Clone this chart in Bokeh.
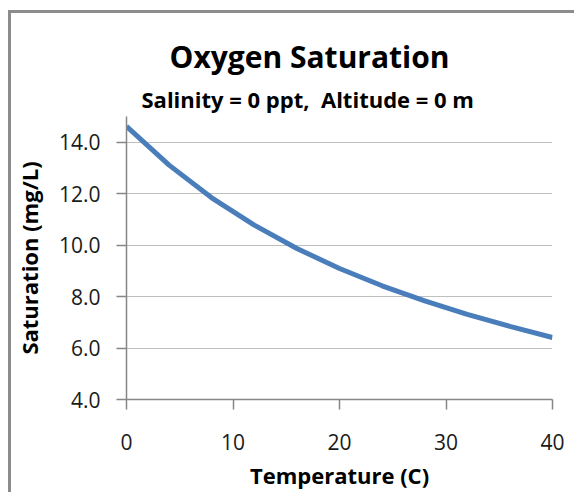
from bokeh.plotting import figure
from bokeh.models import Range1d, FixedTicker, PrintfTickFormatter, Title, ColumnDataSource
from bokeh.embed import file_html
from bokeh.resources import INLINE

# Data
temperature_c = [0, 4, 8, 12, 16, 20, 24, 28, 32, 36, 40]
saturation_mg_l = [14.62, 13.11, 11.84, 10.78, 9.87, 9.09, 8.42, 7.83, 7.31, 6.84, 6.41]
x_ticks = [0, 10, 20, 30, 40]
y_ticks = [4, 6, 8, 10, 12, 14]

title_text = "Oxygen Saturation"
subtitle_text = "Salinity = 0 ppt,\u00a0 Altitude = 0 m"
x_label = "Temperature (C)"
y_label = "Saturation (mg/L)"

FONT = "Open Sans"
AXIS_GRAY = "#868686"

src = ColumnDataSource(data=dict(t=temperature_c, s=saturation_mg_l))

p = figure(width=574, height=492, x_range=Range1d(0, 40), y_range=Range1d(4, 15),
           output_backend="svg", toolbar_location=None, title=None,
           min_border_left=126, min_border_right=22, min_border_top=116, min_border_bottom=88)

p.border_fill_color = None
p.background_fill_color = "white"
p.outline_line_color = None
p.styles = {"box-shadow": "inset 8px 0 0 #ffffff, inset 0 10px 0 #ffffff, "
                          "inset 11px 0 0 #8c8c8c, inset 0 13px 0 #8c8c8c"}

p.line("t", "s", source=src, line_color="#4a7ebb", line_width=5)

# subtitle (closest to frame), then main title
p.add_layout(Title(text=subtitle_text, align="left", offset=15, text_font=FONT,
                   text_font_size="22px", text_font_style="bold", text_color="#000000",
                   standoff=6), "above")
p.add_layout(Title(text=title_text, align="left", offset=43, text_font=FONT,
                   text_font_size="30px", text_font_style="bold", text_color="#000000",
                   standoff=4), "above")

for ax in (p.xaxis[0], p.yaxis[0]):
    ax.axis_line_color = AXIS_GRAY
    ax.axis_line_width = 1.5
    ax.major_tick_line_color = AXIS_GRAY
    ax.major_tick_line_width = 1.5
    ax.major_tick_out = 10
    ax.major_tick_in = 0
    ax.minor_tick_line_color = None
    ax.major_label_text_font = FONT
    ax.major_label_text_font_size = "21px"
    ax.major_label_text_color = "#1a1a1a"
    ax.axis_label_text_font = FONT
    ax.axis_label_text_font_size = "22px"
    ax.axis_label_text_font_style = "bold"
    ax.axis_label_text_color = "#000000"

p.xaxis[0].ticker = FixedTicker(ticks=x_ticks)
p.yaxis[0].ticker = FixedTicker(ticks=y_ticks)
p.yaxis[0].formatter = PrintfTickFormatter(format="%.1f")
p.xaxis[0].axis_label = x_label
p.yaxis[0].axis_label = y_label
p.xaxis[0].major_label_standoff = 24
p.yaxis[0].major_label_standoff = 16
p.xaxis[0].axis_label_standoff = 7
p.yaxis[0].axis_label_standoff = 12

p.xgrid.grid_line_color = None
p.ygrid.ticker = FixedTicker(ticks=y_ticks)
p.ygrid.grid_line_color = "#7f7f7f"
p.ygrid.grid_line_width = 1
p.ygrid.grid_line_dash = "1 1"

open("out.html", "w").write(file_html(p, INLINE))
